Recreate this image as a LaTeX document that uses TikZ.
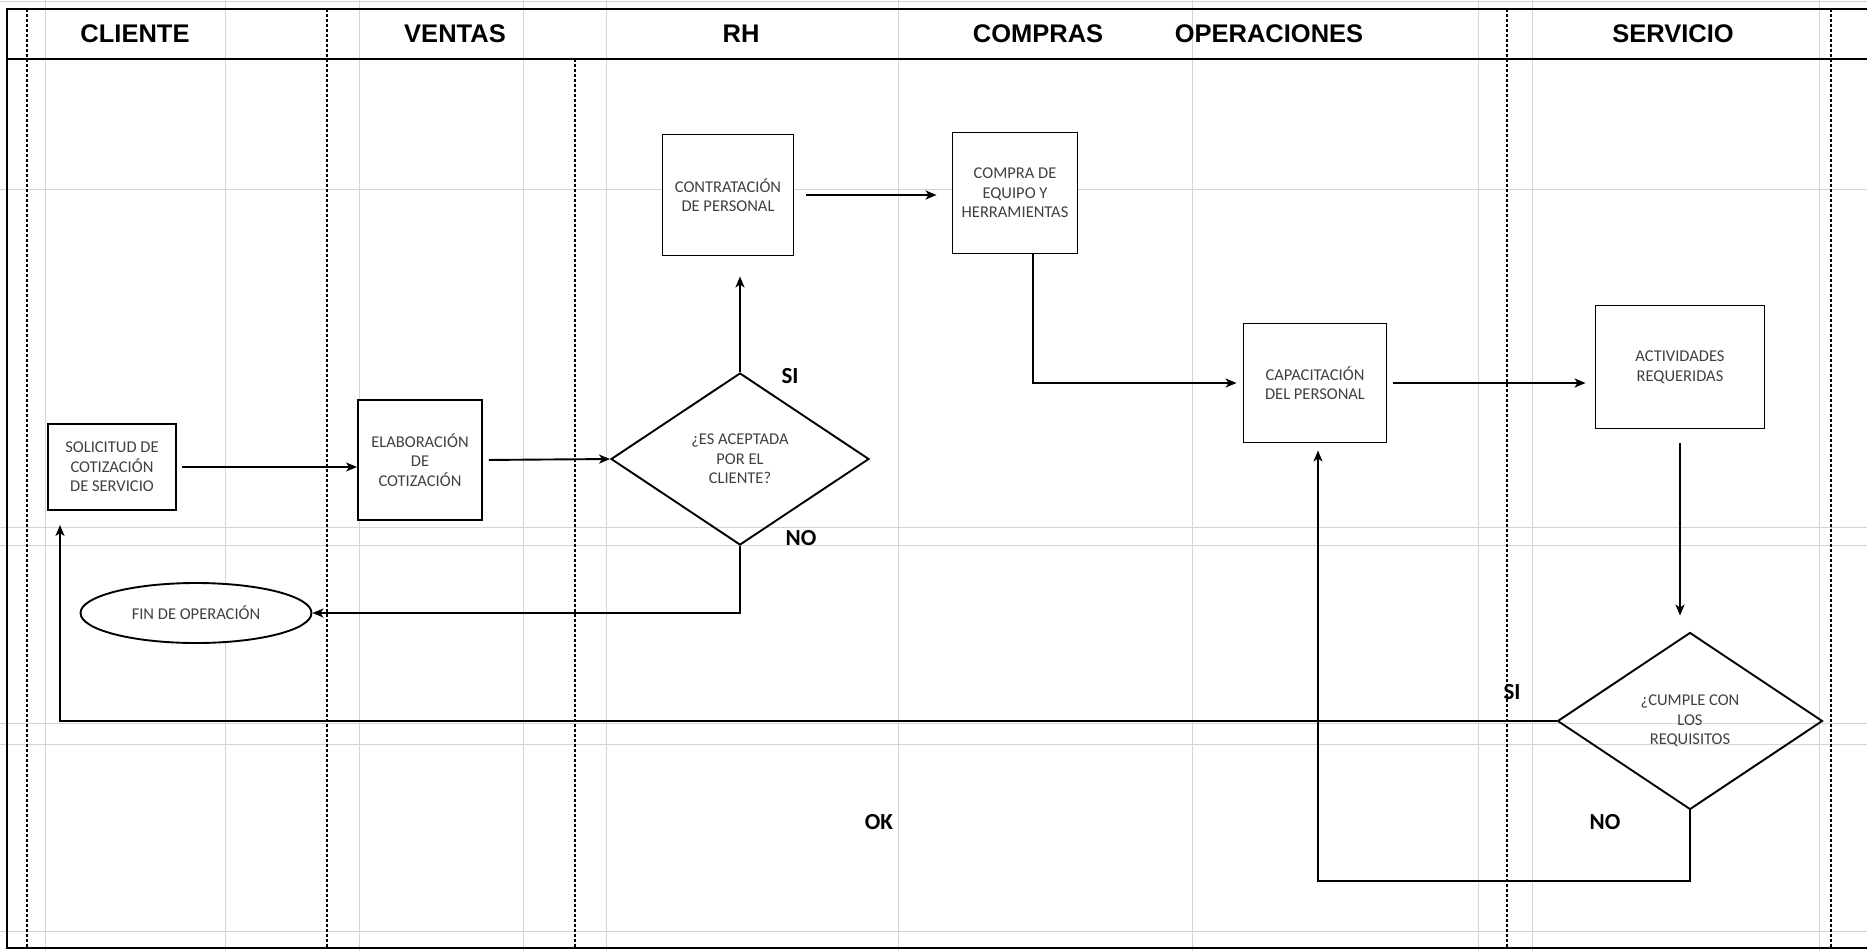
\documentclass[tikz,border=0pt]{standalone}
\usepackage{fontspec}
\setmainfont{Carlito}
\newfontfamily\headfont{Liberation Sans}
\usetikzlibrary{arrows.meta,shapes.geometric}

\begin{document}
\begin{tikzpicture}
[x=1pt,y=-1pt,
  gridline/.style={draw=black!17,line width=1pt},%
  laneline/.style={draw=black,line width=1.8pt,dash pattern=on 2.5pt off 2.5pt},%
  frameline/.style={draw=black,line width=2.8pt},%
  headdecorate/.style={font=\headfont\bfseries\fontsize{25.5}{28}\selectfont},%
  boxdecorate/.style={shape=rectangle,draw,line width=1.9pt,fill=white,text=black!75,
    align=center,font=\fontsize{16.5}{19.5}\selectfont,inner sep=0pt},%
  decisiondecorate/.style={shape=diamond,aspect=1.5,draw,line width=1.9pt,text=black!75,
    align=center,font=\fontsize{16.5}{19.5}\selectfont,inner sep=0pt},%
  enddecorate/.style={shape=ellipse,draw,line width=1.9pt,fill=white,text=black!75,
    font=\fontsize{16.5}{19.5}\selectfont,inner sep=0pt},%
  labeldecorate/.style={font=\bfseries\fontsize{23}{26}\selectfont},%
  linedecorate/.style={-{Stealth[length=11pt,width=9pt,inset=3pt]},line width=1.9pt}]
\useasboundingbox (0,0) rectangle (1867,951);
%% sheet grid
\foreach \x in {45,225,359,523,606,898,1192,1478,1532,1819} {
  \draw[gridline] (\x,0) -- (\x,951);
}
\foreach \y in {1,189,527,545,723,744,931} {
  \draw[gridline] (0,\y) -- (1867,\y);
}
%% lanes and header
\foreach \x in {27,327,1507,1831} {
  \draw[laneline] (\x,9) -- (\x,948);
}
\draw[laneline] (575,59) -- (575,948);
\draw[frameline] (1867,9) -- (7,9) -- (7,948) -- (1867,948);
\draw[frameline] (7,59) -- (1867,59);
\foreach \lanename/\x in {CLIENTE/135, VENTAS/455, RH/741, COMPRAS/1038,
  OPERACIONES/1269, SERVICIO/1673} {
  \node (\lanename) at (\x,34) [headdecorate] {\lanename};
}
%% nodes or vertices
\foreach \nodename/\x/\y/\w/\h/\nodetext in {
  sol/112/467/128/86/{SOLICITUD DE\\COTIZACIÓN\\DE SERVICIO},
  elab/420/460/124/120/{ELABORACIÓN\\DE\\COTIZACIÓN},
  contr/728/195/131/121/{CONTRATACIÓN\\DE PERSONAL},
  compra/1015/193/125/121/{COMPRA DE\\EQUIPO Y\\HERRAMIENTAS},
  capac/1315/383/143/119/{CAPACITACIÓN\\DEL PERSONAL},
  activ/1680/367/169/123/{ACTIVIDADES\\REQUERIDAS}} {
  \node (\nodename) at (\x,\y) [boxdecorate,minimum width=\w pt,minimum height=\h pt] {\nodetext};
}
\node (acep) at (740,459) [decisiondecorate,minimum width=258pt,minimum height=172pt]
  {¿ES ACEPTADA\\POR EL\\CLIENTE?};
\node (cumple) at (1690,721) [decisiondecorate,minimum width=265pt,minimum height=177pt]
  {¿CUMPLE CON\\LOS\\REQUISITOS};
\node (fin) at (196,613) [enddecorate,minimum width=231pt,minimum height=60pt] {FIN DE OPERACIÓN};
\coordinate (ret1) at (60,721);
\coordinate (ret2) at (1318,881);
%% edges or lines
\draw[linedecorate,shorten <=5pt] (sol.east) -- (sol.east -| elab.west);
\draw[linedecorate,shorten <=6pt] (elab.east) -- (acep.west);
\draw[linedecorate,shorten >=20pt] (acep.north) -- (acep.north |- contr.south);
\draw[linedecorate] (acep.south) |- (fin.east);
\draw[linedecorate,shorten <=12pt,shorten >=15pt] (contr.east) -- (contr.east -| compra.west);
\draw[linedecorate,shorten >=6pt] ([xshift=18pt]compra.south) |- (capac.west);
\draw[linedecorate,shorten <=6pt,shorten >=9pt] (capac.east) -- (capac.east -| activ.west);
\draw[linedecorate,shorten <=14pt,shorten >=16pt] (activ.south) -- (activ.south |- cumple.north);
\draw[linedecorate,shorten >=14pt] (cumple.west) -- (ret1) -- (ret1 |- sol.south);
\draw[linedecorate,shorten >=7pt] (cumple.south) |- (ret2) -- (ret2 |- capac.south);
%% answers
\foreach \labelname/\x/\y/\labeltext in {si1/790/376/SI, no1/801/538/NO, si2/1512/692/SI,
  no2/1605/822/NO, ok/879/822/OK} {
  \node (\labelname) at (\x,\y) [labeldecorate] {\labeltext};
}
\end{tikzpicture}
\end{document}
